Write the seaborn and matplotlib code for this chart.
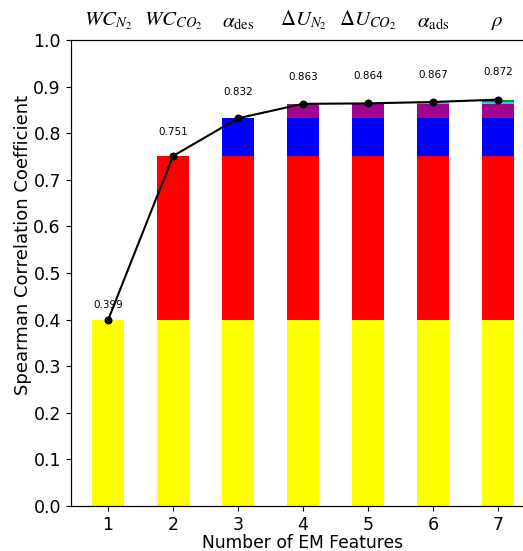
import matplotlib
matplotlib.use("Agg")
import matplotlib.pyplot as plt
import numpy as np
import seaborn as sns
import pandas as pd

# %% data: cumulative Spearman coefficient after adding each feature
n_features = [1, 2, 3, 4, 5, 6, 7]
cum_rho = [0.399, 0.751, 0.832, 0.863, 0.864, 0.867, 0.872]
feature_labels = [r"$WC_{N_2}$", r"$WC_{CO_2}$", r"$\alpha_{\rm des}$",
                  r"$\Delta U_{N_2}$", r"$\Delta U_{CO_2}$", r"$\alpha_{\rm ads}$",
                  r"$\rho$"]
seg_colors = ["#ffff00", "#ff0000", "#0000ff", "#a1048f", "#ff8c00", "#1ec8e6", "#00a000"]

plt.rcParams["mathtext.fontset"] = "stix"

# %% figure
fig = plt.figure(figsize=(5.23, 5.51), dpi=100)
ax = fig.add_axes([0.1352, 0.0817, 0.888, 0.8457])

# stacked bars: draw layer k (height = cum_rho[k]) for bars n >= k, top layers first
for k in range(len(n_features) - 1, -1, -1):
    df = pd.DataFrame({"n": n_features[k:], "h": [cum_rho[k]] * (len(n_features) - k)})
    sns.barplot(data=df, x="n", y="h", native_scale=True, color=seg_colors[k],
                saturation=1, width=0.5, linewidth=0, ax=ax)

sns.lineplot(x=n_features, y=cum_rho, color="black", marker="o", markersize=5,
             markeredgecolor="black", linewidth=1.5, ax=ax)

for n, v in zip(n_features, cum_rho):
    ax.text(n, v * 1.055, f"{v:.3f}", ha="center", va="bottom", fontsize=7.5)

ax.set_xlim(0.425, 7.575)
ax.set_ylim(0, 1)
ax.set_xticks(n_features)
ax.set_yticks(np.arange(0, 1.01, 0.1))
ax.tick_params(labelsize=12.5)
ax.set_xlabel("Number of EM Features", fontsize=12.3, labelpad=0)
ax.set_ylabel("Spearman Correlation Coefficient", fontsize=13)
ax.yaxis.set_label_coords(-0.084, 0.56)

# feature names on top
ax2 = ax.twiny()
ax2.set_xlim(ax.get_xlim())
ax2.set_xticks(n_features)
ax2.set_xticklabels(feature_labels, fontsize=15)
ax2.tick_params(axis="x", length=0, pad=6)

fig.savefig("out.png", dpi=100)
